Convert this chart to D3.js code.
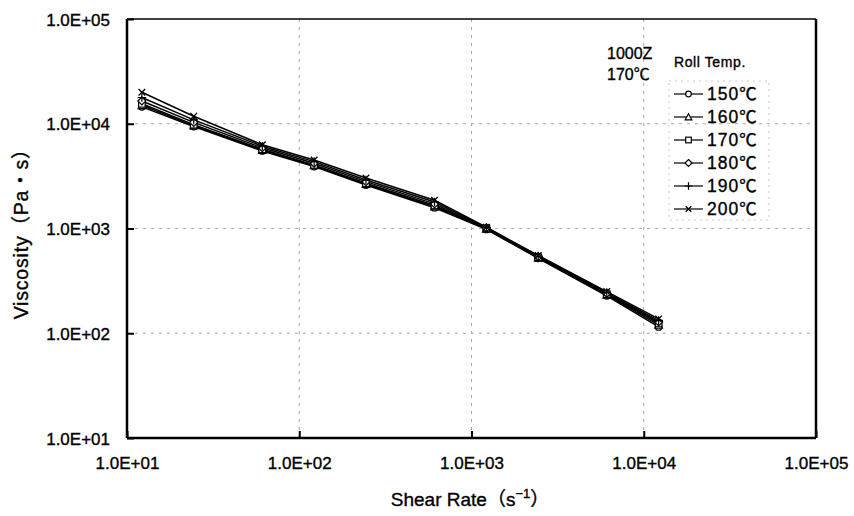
<!DOCTYPE html>
<html><head><meta charset="utf-8">
<script src="https://cdn.jsdelivr.net/npm/d3@7"></script>
<style>
body{margin:0;background:#fff;}
svg{display:block;font-family:"Liberation Sans","Noto Sans CJK JP",sans-serif;}
text{stroke:#000;stroke-width:0.35px;}
</style></head>
<body><svg id="c" width="854" height="516"></svg>
<script>
const shearRate = [12.2, 24.4, 61, 122, 244, 610, 1220, 2440, 6100, 12200];
const seriesNames = ["150℃","160℃","170℃","180℃","190℃","200℃"];
const v150 = [14500, 9400, 5500, 3900, 2600, 1580, 980, 520, 228, 115];
const v160 = [15000, 9600, 5600, 4000, 2650, 1620, 990, 525, 232, 120];
const v170 = [15500, 9800, 5700, 4050, 2700, 1660, 1000, 530, 236, 124];
const v180 = [16500, 10300, 5900, 4200, 2800, 1720, 1010, 538, 240, 128];
const v190 = [17800, 10900, 6100, 4350, 2900, 1790, 1020, 545, 245, 132];
const v200 = [20000, 11800, 6300, 4500, 3030, 1860, 1030, 552, 250, 137];
const seriesValues = [v150, v160, v170, v180, v190, v200];
const markerTypes = ["circle","triangle","square","diamond","plus","cross"];
const xTicks = [1e1, 1e2, 1e3, 1e4, 1e5];
const yTicks = [1e1, 1e2, 1e3, 1e4, 1e5];
const tickLabel = d => "1.0E+" + String(Math.round(Math.log10(d))).padStart(2,"0");

const svg = d3.select("#c");
const L = 127, R = 816, T = 19, B = 438;
const x = d3.scaleLog().domain([1e1, 1e5]).range([L, R]);
const y = d3.scaleLog().domain([1e1, 1e5]).range([B, T]);

// grid
const g = svg.append("g");
[1e2,1e3,1e4].forEach(v => {
  g.append("line").attr("x1", x(v)).attr("x2", x(v)).attr("y1", T).attr("y2", B)
    .attr("stroke", "#aaa").attr("stroke-width", 1).attr("stroke-dasharray", "3,5");
  g.append("line").attr("x1", L).attr("x2", R).attr("y1", y(v)).attr("y2", y(v))
    .attr("stroke", "#aaa").attr("stroke-width", 1).attr("stroke-dasharray", "3,5");
});

// axes (inner ticks)
const xAxis = d3.axisBottom(x).tickValues(xTicks).tickSize(-7).tickFormat(tickLabel).tickPadding(19);
const yAxis = d3.axisLeft(y).tickValues(yTicks).tickSize(-7).tickFormat(tickLabel).tickPadding(17);
const gx = svg.append("g").attr("transform", `translate(0,${B})`).call(xAxis);
const gy = svg.append("g").attr("transform", `translate(${L},0)`).call(yAxis);
[gx, gy].forEach(a => {
  a.select(".domain").remove();
  a.selectAll(".tick line").attr("stroke", "#000").attr("stroke-width", 2);
  a.selectAll(".tick text").attr("font-size", 17).attr("fill", "#000")
    .attr("font-family", "Liberation Sans, sans-serif");
});
gy.selectAll(".tick text").attr("dy", "0.36em");

// frame
svg.append("line").attr("x1", L).attr("x2", R).attr("y1", T).attr("y2", T).attr("stroke", "#000").attr("stroke-width", 1.5);
svg.append("line").attr("x1", L).attr("x2", R).attr("y1", B).attr("y2", B).attr("stroke", "#000").attr("stroke-width", 2.5);
svg.append("line").attr("x1", L).attr("x2", L).attr("y1", T).attr("y2", B).attr("stroke", "#000").attr("stroke-width", 2.5);
svg.append("line").attr("x1", R).attr("x2", R).attr("y1", T).attr("y2", B).attr("stroke", "#000").attr("stroke-width", 2.5);

// marker drawing
function drawMarker(sel, type, cx, cy, s) {
  s = s || 3.3;
  if (type === "circle") sel.append("circle").attr("cx", cx).attr("cy", cy).attr("r", s).attr("fill", "#fff").attr("stroke", "#000").attr("stroke-width", 1.2);
  else if (type === "triangle") sel.append("path").attr("d", `M${cx},${cy-s-0.5}L${cx+s+0.5},${cy+s}L${cx-s-0.5},${cy+s}Z`).attr("fill", "#fff").attr("stroke", "#000").attr("stroke-width", 1.2);
  else if (type === "square") sel.append("rect").attr("x", cx-s).attr("y", cy-s).attr("width", 2*s).attr("height", 2*s).attr("fill", "#fff").attr("stroke", "#000").attr("stroke-width", 1.2);
  else if (type === "diamond") sel.append("path").attr("d", `M${cx},${cy-s-0.7}L${cx+s+0.7},${cy}L${cx},${cy+s+0.7}L${cx-s-0.7},${cy}Z`).attr("fill", "#fff").attr("stroke", "#000").attr("stroke-width", 1.2);
  else if (type === "plus") sel.append("path").attr("d", `M${cx-s-1},${cy}L${cx+s+1},${cy}M${cx},${cy-s-1}L${cx},${cy+s+1}`).attr("stroke", "#000").attr("stroke-width", 1.2);
  else if (type === "cross") sel.append("path").attr("d", `M${cx-s},${cy-s}L${cx+s},${cy+s}M${cx+s},${cy-s}L${cx-s},${cy+s}`).attr("stroke", "#000").attr("stroke-width", 1.3);
}

const line = d3.line().x(d => x(d[0])).y(d => y(d[1]));
seriesValues.forEach((vals, i) => {
  const pts = shearRate.map((s, j) => [s, vals[j]]);
  svg.append("path").attr("d", line(pts)).attr("fill", "none").attr("stroke", "#000").attr("stroke-width", 1.5);
});
seriesValues.forEach((vals, i) => {
  const gm = svg.append("g");
  shearRate.forEach((s, j) => drawMarker(gm, markerTypes[i], x(s), y(vals[j])));
});

// annotation
svg.append("text").attr("x", 607).attr("y", 59).attr("font-size", 16).text("1000Z");
svg.append("text").attr("x", 607).attr("y", 80).attr("font-size", 16).text("170℃");

// legend
svg.append("text").attr("x", 674).attr("y", 67).attr("font-size", 14).attr("letter-spacing", 0.6).text("Roll Temp.");
svg.append("rect").attr("x", 669).attr("y", 81).attr("width", 100).attr("height", 139)
  .attr("fill", "none").attr("stroke", "#ccc").attr("stroke-width", 1).attr("stroke-dasharray", "2,4");
seriesNames.forEach((n, i) => {
  const cy = 94 + i * 23;
  svg.append("line").attr("x1", 674).attr("x2", 703).attr("y1", cy).attr("y2", cy).attr("stroke", "#000").attr("stroke-width", 1.2);
  drawMarker(svg, markerTypes[i], 688.5, cy, 2.8);
  svg.append("text").attr("x", 707).attr("y", cy + 6).attr("font-size", 17.5).attr("letter-spacing", 1).text(n);
});

// axis titles
svg.append("text").attr("x", 470).attr("y", 506).attr("text-anchor", "middle").attr("font-size", 19)
  .html('Shear Rate（s<tspan font-size="13" dy="-8">−1</tspan><tspan dy="8">）</tspan>');
svg.append("text").attr("transform", "translate(28,229) rotate(-90)").attr("text-anchor", "middle").attr("font-size", 19.5)
  .attr("letter-spacing", 0.8).text("Viscosity（Pa・s）");
</script></body></html>
